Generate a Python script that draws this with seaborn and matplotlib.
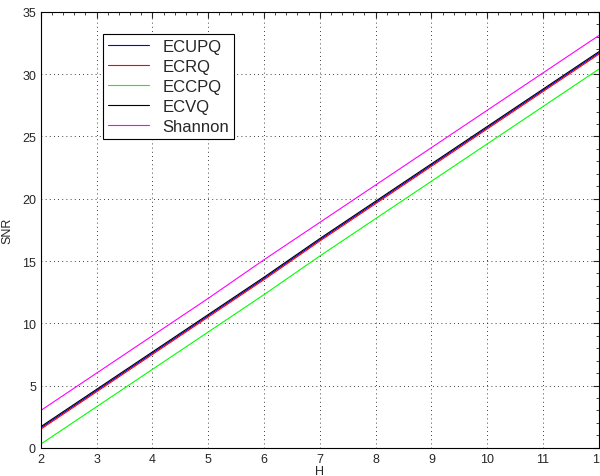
import matplotlib
matplotlib.use("Agg")
import matplotlib.pyplot as plt
import pandas as pd
import seaborn as sns
from matplotlib.ticker import MultipleLocator

# valores
H = [2, 3, 4, 5, 6, 7, 8, 9, 10, 11, 12]
ecupq = [1.6, 4.6, 7.6, 10.6, 13.6, 16.7, 19.7, 22.7, 25.7, 28.7, 31.7]
ecrq = [1.5, 4.5, 7.5, 10.5, 13.5, 16.6, 19.6, 22.6, 25.6, 28.6, 31.6]
eccpq = [0.3, 3.3, 6.3, 9.3, 12.3, 15.4, 18.4, 21.4, 24.4, 27.4, 30.4]
ecvq = [1.7, 4.7, 7.7, 10.7, 13.7, 16.8, 19.8, 22.8, 25.8, 28.8, 31.8]
shannon = [3.0, 6.0, 9.0, 12.0, 15.1, 18.1, 21.1, 24.1, 27.1, 30.1, 33.1]

nombres = ["ECUPQ", "ECRQ", "ECCPQ", "ECVQ", "Shannon"]
colores = ["#0000ff", "#ff0000", "#00ff00", "#000000", "#ff00ff"]

datos = pd.DataFrame({"H": H * 5,
                      "SNR": ecupq + ecrq + eccpq + ecvq + shannon,
                      "metodo": [n for n in nombres for _ in H]})

sns.set_style("white")
plt.rcParams['font.family'] = ['Liberation Sans', 'DejaVu Sans']

fig = plt.figure(figsize=(6, 4.77), dpi=100)
ax = fig.add_axes([0.068, 0.059, 0.93, 0.914])

sns.lineplot(ax=ax, data=datos, x="H", y="SNR", hue="metodo",
             hue_order=nombres, palette=colores, linewidth=0.8)

ax.set_xlim(2, 12)
ax.set_ylim(0, 35)
ax.xaxis.set_major_locator(MultipleLocator(1))
ax.yaxis.set_major_locator(MultipleLocator(5))
ax.xaxis.set_minor_locator(MultipleLocator(0.2))
ax.yaxis.set_minor_locator(MultipleLocator(1))
ax.tick_params(which='both', direction='in', top=True, right=True, labelsize=9)
ax.tick_params(which='major', length=4)
ax.tick_params(which='minor', length=2)
ax.grid(True, which='major', color='black', linestyle=(0, (1, 4)), linewidth=0.6)
for s in ax.spines.values():
    s.set_color('black')
    s.set_linewidth(0.8)

ax.set_xlabel("H", fontsize=9, labelpad=0)
ax.set_ylabel("SNR", fontsize=9, labelpad=6)

leg = ax.legend(loc='upper left', bbox_to_anchor=(0.111, 0.95), borderaxespad=0,
                fontsize=12, fancybox=False, framealpha=1, edgecolor='black',
                handlelength=2.5, labelspacing=0.3, borderpad=0.3)
leg.get_frame().set_linewidth(0.8)

fig.savefig("out.png", dpi=100)
